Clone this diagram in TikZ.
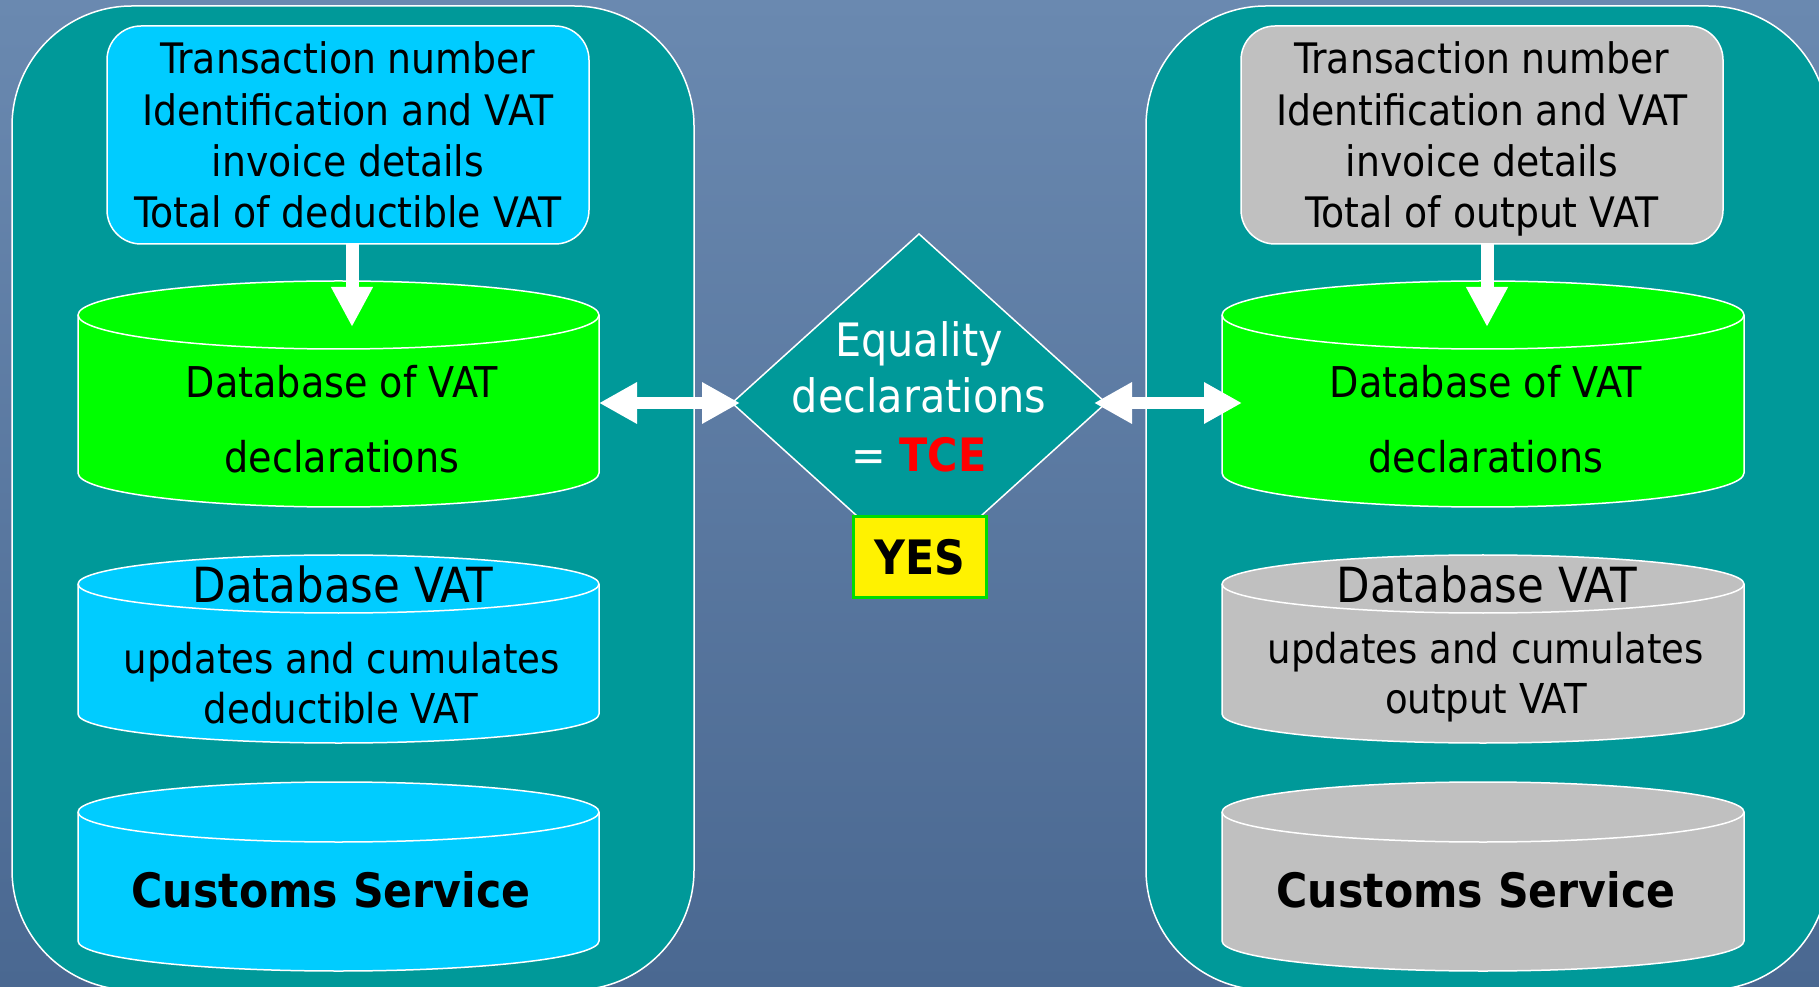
\documentclass[tikz,border=0pt]{standalone}
\usepackage{fontspec}
\setmainfont{DejaVu Sans Condensed}
\usetikzlibrary{arrows.meta,shapes.geometric,calc}
\definecolor{tealbg}{RGB}{0,153,153}
\definecolor{cyanfill}{RGB}{0,204,255}
\definecolor{greenfill}{RGB}{0,255,0}
\definecolor{grayfill}{RGB}{192,192,192}
\definecolor{bgtop}{RGB}{106,137,176}
\definecolor{bgbot}{RGB}{74,104,145}
\definecolor{yesgreen}{RGB}{0,220,0}
\definecolor{tcered}{RGB}{255,0,0}
\newcommand\dbcyl[7]{%
  \path[fill=#2,draw=white,line width=0.75pt]
    (#3-#6,#4) -- (#3-#6,#5)
    arc[start angle=180,end angle=360,x radius={#6*0.5pt},y radius={#7*0.5pt}]
    -- (#3+#6,#4)
    arc[start angle=0,end angle=180,x radius={#6*0.5pt},y radius={#7*0.5pt}] -- cycle;
  \draw[white,line width=0.75pt] (#3+#6,#4)
    arc[start angle=0,end angle=-180,x radius={#6*0.5pt},y radius={#7*0.5pt}];
  \node[inner sep=0pt,outer sep=0pt,minimum width={#6*1pt},
        minimum height={(#4-#5+2*#7)*0.5pt}] (#1) at (#3,{(#4+#5)/2}) {};
}
\tikzset{
  panel/.style={draw=white,line width=0.75pt,fill=tealbg,rounded corners=60pt,
    minimum width=341pt,minimum height=492pt,inner sep=0pt,outer sep=0pt},
  infobox/.style={draw=white,line width=0.75pt,rounded corners=17pt,
    minimum width=241pt,minimum height=109pt,inner sep=0pt,outer sep=0pt},
  boxtxt/.style={anchor=base,inner sep=0pt,font=\fontsize{21pt}{24pt}\selectfont},
  updtxt/.style={anchor=base,inner sep=0pt,font=\fontsize{20.6pt}{24pt}\selectfont},
  dbtxt/.style={anchor=base,inner sep=0pt,font=\fontsize{21.2pt}{24pt}\selectfont},
  bigtxt/.style={anchor=base,inner sep=0pt,font=\fontsize{24.2pt}{28pt}\selectfont},
  boldtxt/.style={anchor=base,inner sep=0pt,font=\fontsize{23.7pt}{28pt}\selectfont\bfseries},
  diatxt/.style={anchor=base,inner sep=0pt,text=white,font=\fontsize{23pt}{28pt}\selectfont},
  downarrow/.style={draw=white,line width=6.5pt,-{Triangle[width=19.5pt,length=20pt]}},
  dblarrow/.style={draw=white,line width=6pt,
    {Triangle[width=19.5pt,length=19pt]}-{Triangle[width=19.5pt,length=19pt]}},
}
\begin{document}
\begin{tikzpicture}[x=0.5pt,y=0.5pt]
\useasboundingbox (0,0) rectangle (1819,986);
\shade[top color=bgtop,bottom color=bgbot] (0,0) rectangle (1819,986);

% panels
\node[panel] (panelL) at (353,488) {};
\node[panel] (panelR) at (1487,488) {};

% top boxes
\node[infobox,fill=cyanfill] (topL) at (348,851) {};
\node[infobox,fill=grayfill] (topR) at (1482,851) {};
\node[boxtxt] (tl1) at (348,912) {Transaction number};
\node[boxtxt] (tl2) at (348,860.5) {Identification and VAT};
\node[boxtxt] (tl3) at (348,809) {invoice details};
\node[boxtxt] (tl4) at (348,758) {Total of deductible VAT};
\node[boxtxt] (tr1) at (1482,912) {Transaction number};
\node[boxtxt] (tr2) at (1482,860.5) {Identification and VAT};
\node[boxtxt] (tr3) at (1482,809) {invoice details};
\node[boxtxt] (tr4) at (1482,758) {Total of output VAT};

% cylinders
\dbcyl{gL}{greenfill}{338.5}{671}{513}{260.5}{34}
\dbcyl{bL}{cyanfill}{338.5}{402}{272}{260.5}{29}
\dbcyl{cL}{cyanfill}{338.5}{174}{45}{260.5}{30}
\dbcyl{gR}{greenfill}{1483}{671}{513}{261}{34}
\dbcyl{bR}{grayfill}{1483}{402}{272}{261}{29}
\dbcyl{cR}{grayfill}{1483}{174}{45}{261}{30}

\node[dbtxt] (gl1) at (342,588) {Database of VAT};
\node[dbtxt] (gl2) at (342,513) {declarations};
\node[dbtxt] (gr1) at (1486,588) {Database of VAT};
\node[dbtxt] (gr2) at (1486,513) {declarations};

\node[bigtxt] (bl1) at (343,384) {Database VAT};
\node[updtxt] (bl2) at (342,313) {updates and cumulates};
\node[updtxt] (bl3) at (341,263) {deductible VAT};
\node[bigtxt] (br1) at (1487,384) {Database VAT};
\node[updtxt] (br2) at (1486,323) {updates and cumulates};
\node[updtxt] (br3) at (1486,273) {output VAT};

\node[boldtxt] (cl) at (331,79) {Customs Service};
\node[boldtxt] (cr) at (1476,79) {Customs Service};

% diamond
\node[diamond,draw=white,line width=0.75pt,fill=tealbg,inner sep=0pt,outer sep=0pt,
      minimum width=187pt,minimum height=169pt] (dia) at (919,583) {};
\node[diatxt] (d1) at (919,629) {Equality};
\node[diatxt] (d2) at (919,573) {declarations};
\node[diatxt] (d3) at (919,514) {= \textcolor{tcered}{\bfseries TCE}};

% YES box
\node[draw=yesgreen,line width=1.5pt,fill=yellow,minimum width=66.5pt,minimum height=40pt,
      inner sep=0pt] (yes) at (919.5,429) {};
\node[boldtxt] (yestxt) at (919.5,411) {YES};

% arrows
\coordinate (tipL) at (352,659);
\coordinate (tipR) at (1487,659);
\draw[downarrow] (tipL |- topL.south) -- (tipL);
\draw[downarrow] (tipR |- topR.south) -- (tipR);
\draw[dblarrow] (gL.east |- dia.west) -- ($(dia.west)+(8,0)$);
\draw[dblarrow] ($(dia.east)+(-12,0)$) -- ($(gR.west |- dia.east)+(20,0)$);
\end{tikzpicture}
\end{document}
